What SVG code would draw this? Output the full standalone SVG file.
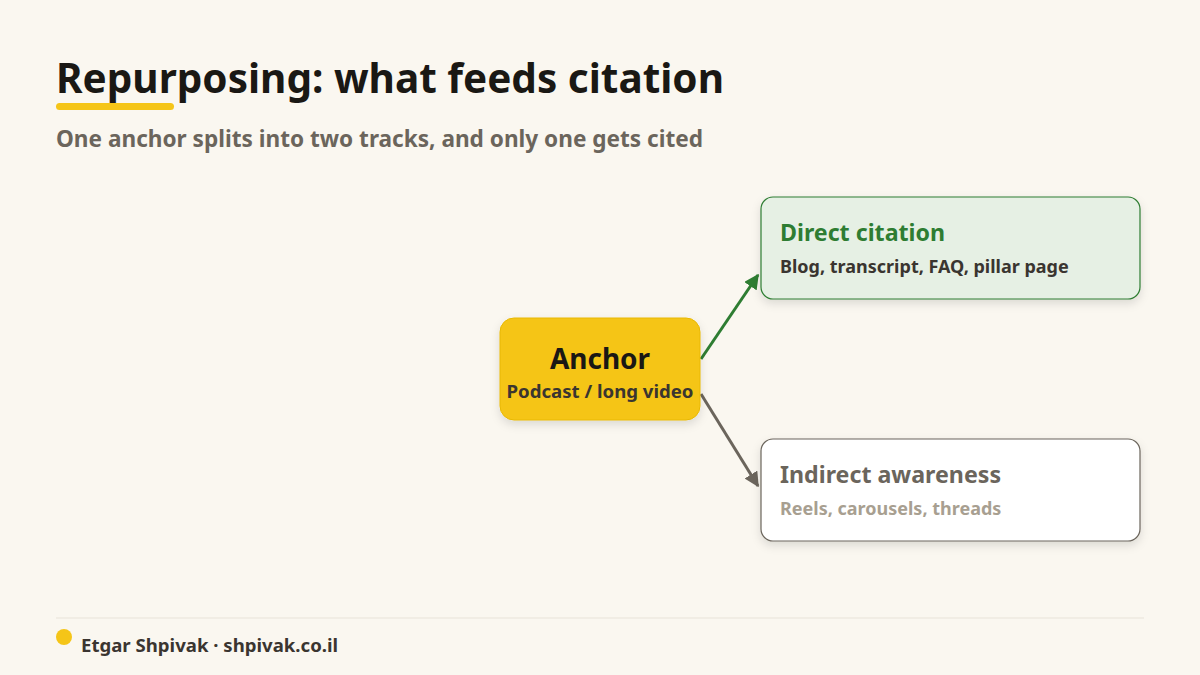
<svg xmlns="http://www.w3.org/2000/svg" width="1200" height="675" viewBox="0 0 1200 675">
<defs>
<style>
text{font-family:"Noto Sans","Open Sans","DejaVu Sans",sans-serif;font-weight:700}
.title{font-size:40.5px;fill:#1a1814}
.sub{font-size:22.6px;fill:#6b655c}
.h{font-size:23.2px}
.s{font-size:18px}
.foot{font-size:18.6px;fill:#3a3530}
</style>
<filter id="sh" x="-20%" y="-20%" width="140%" height="160%">
<feDropShadow dx="0" dy="4" stdDeviation="5" flood-color="#000" flood-opacity="0.12"/>
</filter>
<marker id="ag" viewBox="0 0 10 10" refX="9" refY="5" markerWidth="5" markerHeight="5" orient="auto"><path d="M0,0 L10,5 L0,10 z" fill="#2e7d32"/></marker>
<marker id="ay" viewBox="0 0 10 10" refX="9" refY="5" markerWidth="5" markerHeight="5" orient="auto"><path d="M0,0 L10,5 L0,10 z" fill="#6b655c"/></marker>
</defs>
<rect width="1200" height="675" fill="#faf7f0"/>
<g id="header">
<text class="title" x="56" y="93">Repurposing: what feeds citation</text>
<rect x="56" y="103" width="118" height="7" rx="3.5" fill="#f5c518"/>
<text class="sub" x="56" y="147">One anchor splits into two tracks, and only one gets cited</text>
</g>
<g id="connectors">
<line x1="701" y1="359" x2="758" y2="275" stroke="#2e7d32" stroke-width="3" marker-end="url(#ag)"/>
<line x1="701" y1="394" x2="758" y2="486" stroke="#6b655c" stroke-width="3" marker-end="url(#ay)"/>
</g>
<g id="anchor">
<rect x="500" y="318" width="200" height="102" rx="14" fill="#f5c518" stroke="#e8b800" stroke-width="1" filter="url(#sh)"/>
<text x="600" y="369" text-anchor="middle" font-size="28" fill="#1a1814">Anchor</text>
<text x="600" y="398" text-anchor="middle" class="s" fill="#3a3530" style="font-size:18.6px">Podcast / long video</text>
</g>
<g id="direct">
<rect x="761" y="197" width="379" height="102" rx="12" fill="#e6f0e4" stroke="#2e7d32" stroke-width="1.2" filter="url(#sh)"/>
<text x="780" y="241" class="h" fill="#2e7d32">Direct citation</text>
<text x="780" y="273" class="s" fill="#3a3530">Blog, transcript, FAQ, pillar page</text>
</g>
<g id="indirect">
<rect x="761" y="439" width="379" height="102" rx="12" fill="#ffffff" stroke="#6b655c" stroke-width="1.2" filter="url(#sh)"/>
<text x="780" y="483" class="h" fill="#6b655c">Indirect awareness</text>
<text x="780" y="515" class="s" fill="#a89f91">Reels, carousels, threads</text>
</g>
<g id="footer">
<line x1="56" y1="618" x2="1144" y2="618" stroke="#e8e3d9" stroke-width="1"/>
<circle cx="64" cy="637" r="8" fill="#f5c518"/>
<text x="81" y="652" class="foot">Etgar Shpivak · shpivak.co.il</text>
</g>
</svg>
